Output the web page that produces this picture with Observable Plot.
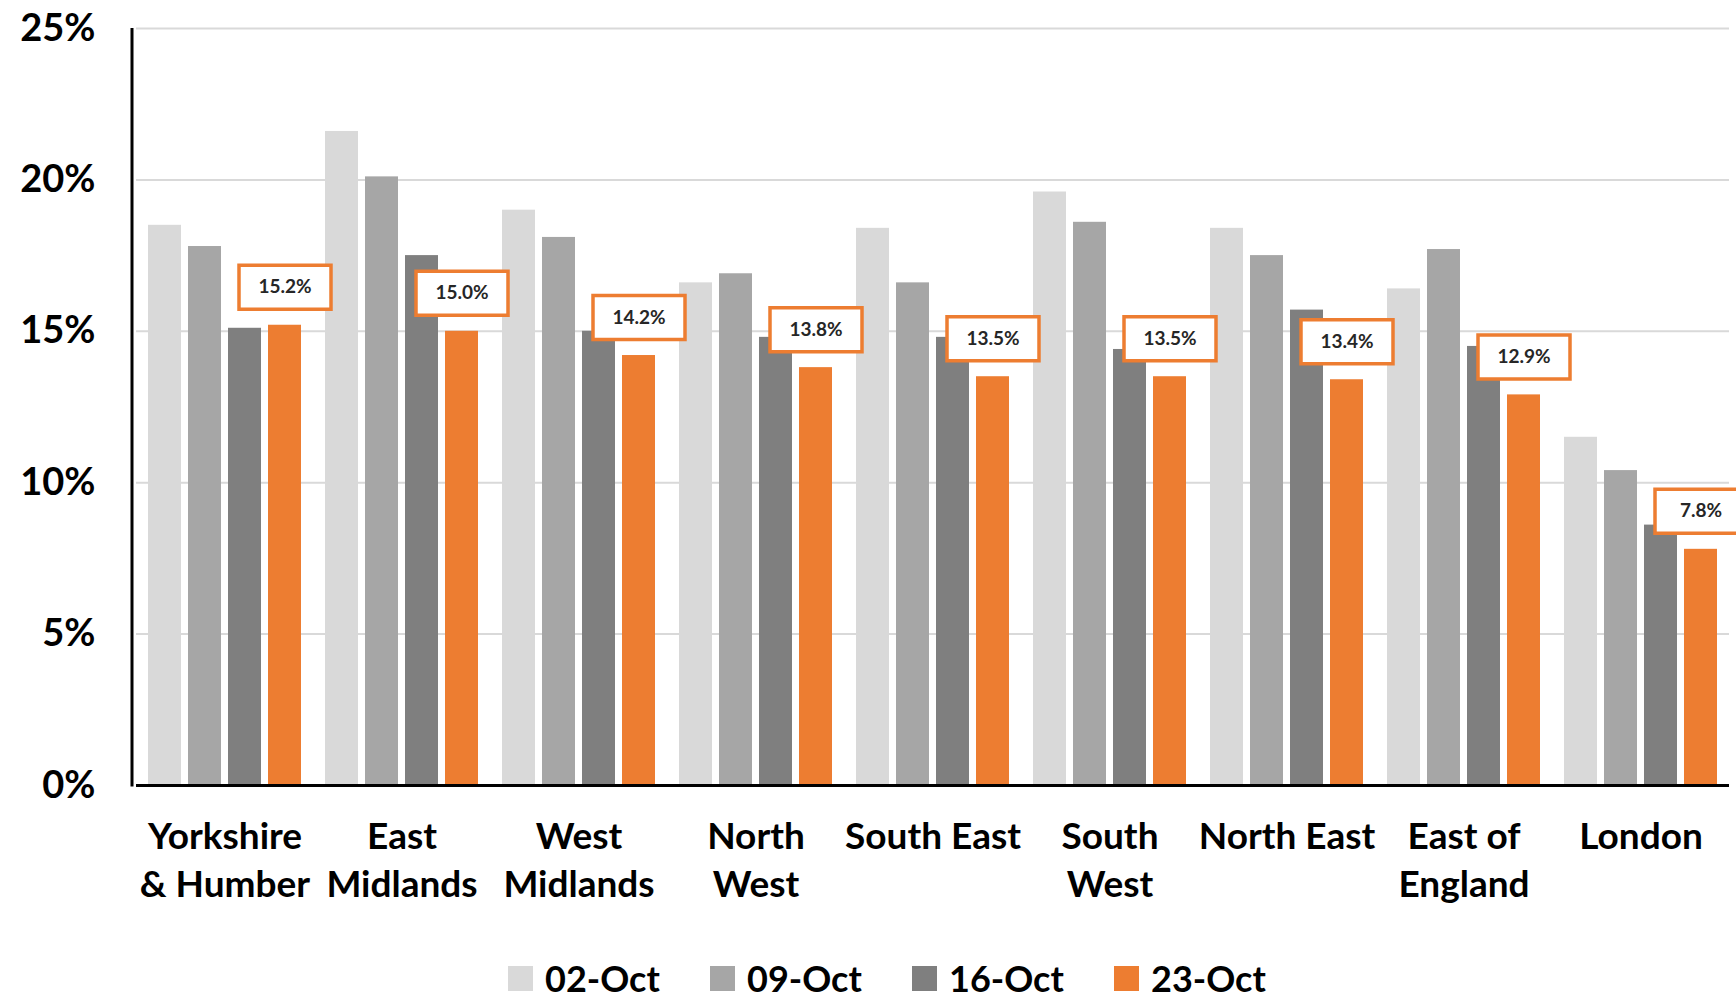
<!DOCTYPE html>
<html><head><meta charset="utf-8">
<script src="https://cdn.jsdelivr.net/npm/d3@7"></script>
<script src="https://cdn.jsdelivr.net/npm/@observablehq/plot@0.6"></script>
<style>
html,body{margin:0;padding:0;background:#fff;overflow:hidden;width:1736px;height:1000px;}
#chart{position:absolute;left:0;top:0;}
#legend{position:absolute;top:960px;left:508px;height:36px;line-height:36px;display:flex;align-items:center;font-family:Lato,sans-serif;font-weight:700;font-size:36px;color:#000;white-space:nowrap;}
.item{display:flex;align-items:center;width:202px;height:36px;}
.item:last-child{width:auto;}
.sw{width:25px;height:25px;margin-right:12px;}
</style></head><body>
<div id="chart"></div><div id="legend"></div>
<script>
const regions = ["Yorkshire & Humber","East Midlands","West Midlands","North West","South East","South West","North East","East of England","London"];
const regionLabels = ["Yorkshire\n& Humber","East\nMidlands","West\nMidlands","North\nWest","South East","South\nWest","North East","East of\nEngland","London"];
const series = ["02-Oct","09-Oct","16-Oct","23-Oct"];
const colors = ["#D9D9D9","#A6A6A6","#7F7F7F","#ED7D31"];
const v02 = [18.5, 21.6, 19.0, 16.6, 18.4, 19.6, 18.4, 16.4, 11.5];
const v09 = [17.8, 20.1, 18.1, 16.9, 16.6, 18.6, 17.5, 17.7, 10.4];
const v16 = [15.1, 17.5, 15.0, 14.8, 14.8, 14.4, 15.7, 14.5, 8.6];
const v23 = [15.2, 15.0, 14.2, 13.8, 13.5, 13.5, 13.4, 12.9, 7.8];
const yTicks = [0, 5, 10, 15, 20, 25];

const valuesBySeries = [v02, v09, v16, v23];
const table = [];
series.forEach((s, si) => regions.forEach((r, ri) => table.push({region: r, series: s, value: valuesBySeries[si][ri]})));
const latest = table.filter(d => d.series === series[series.length - 1]);
const labelOf = new Map(regions.map((r, i) => [r, regionLabels[i]]));

const boxSymbol = {draw(ctx) { ctx.rect(-46, -22, 92, 44); }};
const font = "Lato, 'Open Sans', sans-serif";
const marginLeft = 132;

const chart = Plot.plot({
  width: 1736,
  height: 960,
  marginTop: 28,
  marginBottom: 175,
  marginLeft,
  marginRight: 3,
  style: {fontFamily: font, background: "#fff", overflow: "hidden"},
  fx: {domain: regions, padding: 0},
  x: {domain: series, paddingInner: 0.18, paddingOuter: 0.3, axis: null},
  y: {domain: [0, 25]},
  color: {domain: series, range: colors},
  marks: [
    Plot.gridY(yTicks.filter(t => t > 0), {stroke: "#D9D9D9", strokeOpacity: 1, strokeWidth: 2}),
    Plot.barY(table, {fx: "region", x: "series", y: "value", fill: "series"}),
    Plot.ruleY([0], {stroke: "#000", strokeWidth: 3}),
    Plot.axisY({ticks: yTicks, tickFormat: d => d + "%", tickSize: 0, tickPadding: 41, fontSize: 38, fontWeight: "bold", fill: "#000", label: null}),
    Plot.axisFx({anchor: "bottom", tickSize: 0, tickPadding: 29, lineHeight: 1.3, lineAnchor: "top", fontSize: 37, fontWeight: "bold", fill: "#000", label: null, tickFormat: r => labelOf.get(r)}),
    Plot.dot(latest, {fx: "region", x: "series", y: "value", symbol: boxSymbol, fill: "#fff", stroke: "#ED7D31", strokeWidth: 3.5, dy: -38}),
    Plot.text(latest, {fx: "region", x: "series", y: "value", text: d => d.value.toFixed(1) + "%", dy: -38, fontSize: 19, fontWeight: "bold", fill: "#262626"})
  ]
});

const ys = chart.scale("y");
d3.select(chart).append("line")
  .attr("x1", marginLeft).attr("x2", marginLeft)
  .attr("y1", ys.apply(25)).attr("y2", ys.apply(0) + 1.5)
  .attr("stroke", "#000").attr("stroke-width", 3);

document.getElementById("chart").appendChild(chart);

const legend = d3.select("#legend");
series.forEach((s, i) => {
  const item = legend.append("div").attr("class", "item");
  item.append("div").attr("class", "sw").style("background", colors[i]);
  item.append("span").text(s);
});
</script>
</body></html>
